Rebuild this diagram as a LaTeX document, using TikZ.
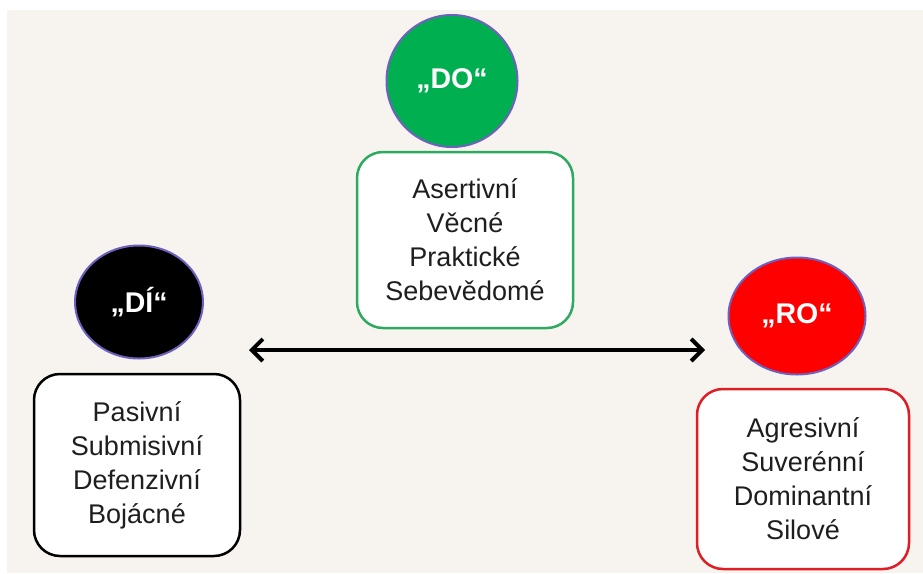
\documentclass[tikz,border=0pt]{standalone}
\usepackage{fontspec}
\setmainfont{Liberation Sans}
\usetikzlibrary{arrows.meta,shapes.geometric}

\definecolor{bgbeige}{RGB}{247,244,240}
\definecolor{rimblue}{RGB}{112,96,190}
\definecolor{dogreen}{RGB}{0,176,80}
\definecolor{boxgreen}{RGB}{46,170,96}
\definecolor{rored}{RGB}{255,0,0}
\definecolor{boxred}{RGB}{222,30,36}
\definecolor{inkgray}{RGB}{30,30,30}

\tikzset{
	mood/.style={ellipse, draw=rimblue, line width=2pt, inner sep=0pt, text=white,
		font=\bfseries\fontsize{28.5}{30}\selectfont},
	trait/.style={rectangle, draw, fill=white, rounded corners=26pt, line width=2.5pt,
		align=center, text=inkgray, inner sep=0pt, font=\fontsize{27}{34}\selectfont},
	swing/.style={line width=4pt, {Straight Barb[length=11pt,width=22pt]}-{Straight Barb[length=11pt,width=22pt]}}
}

\begin{document}
\begin{tikzpicture}[x=1pt,y=-1pt]
		\useasboundingbox (0,0) rectangle (923,573);
		%background
		\fill[white] (0,0) rectangle (923,573);
		\fill[bgbeige] (7,10) rectangle (923,573);
		
		%top: DO
		\node[mood, fill=dogreen, minimum width=131pt, minimum height=132pt] (do) at (452,81) {„DO“};
		\node[trait, draw=boxgreen, minimum width=216pt, minimum height=176pt] (dobox) at (465,240)
			{Asertivní\\Věcné\\Praktické\\Sebevědomé};
		
		%left: DI
		\node[mood, fill=black, minimum width=128pt, minimum height=113pt] (di) at (139,302) {„DÍ“};
		\node[trait, draw=black, minimum width=206pt, minimum height=182pt] (dibox) at (137,465)
			{Pasivní\\Submisivní\\Defenzivní\\Bojácné};
		
		%right: RO
		\node[mood, fill=rored, minimum width=137pt, minimum height=117pt] (ro) at (797,316) {„RO“};
		\node[trait, draw=boxred, minimum width=212pt, minimum height=180pt] (robox) at (803,479)
			{Agresivní\\Suverénní\\Dominantní\\Silové};
		
		%arrow between DI and RO
		\coordinate (lt) at (249,350);
		\coordinate (rt) at (705,350);
		\draw[swing] (lt) -- (rt);
\end{tikzpicture}
\end{document}
